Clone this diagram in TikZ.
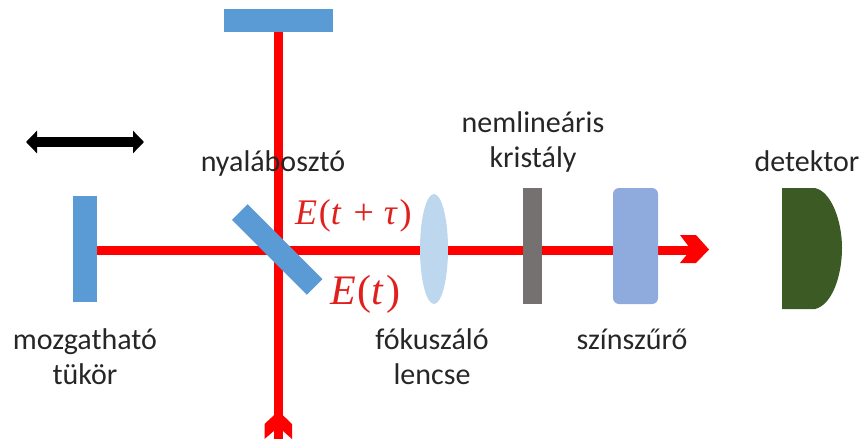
\documentclass[tikz,border=0pt]{standalone}
\usepackage{fontspec}
\setmainfont{Carlito}
\newfontfamily\mathserif[LetterSpace=5]{Liberation Serif}
\usetikzlibrary{arrows.meta,backgrounds,positioning,shapes.geometric}
\definecolor{mirrorblue}{HTML}{5B9BD5}
\definecolor{lensblue}{HTML}{BDD7EE}
\definecolor{filterblue}{HTML}{8FAADC}
\definecolor{crystalgray}{HTML}{767171}
\definecolor{detgreen}{HTML}{3B5A24}
\definecolor{eqred}{HTML}{E0201C}
\tikzset{
  optic/.style={draw=none,inner sep=0pt,outer sep=0pt,minimum width=#1},
  lbl/.style={font=\fontsize{30}{34}\selectfont,text=black!85,inner sep=0pt,anchor=base,align=center},
  beam/.style={draw=red,line width=8.5pt},
  eqa/.style={font=\mathserif\fontsize{36}{40}\selectfont,text=eqred,inner sep=0pt,anchor=base west},
  eqb/.style={font=\mathserif\fontsize{42}{46}\selectfont,text=eqred,inner sep=0pt,anchor=base west}
}
\begin{document}
\begin{tikzpicture}[x=1pt,y=-1pt]
\useasboundingbox (0,0) rectangle (861,439);
\node[optic=24pt,fill=mirrorblue,minimum height=106pt] (movmirror) at (85,249) {};
\node[optic=109pt,fill=mirrorblue,minimum height=23pt] (fixmirror) at (278.5,20.5) {};
\node[optic=106pt,fill=mirrorblue,minimum height=22pt,rotate=-45] (splitter) at (277.2,249.5) {};
\node[optic=28pt,fill=lensblue,ellipse,minimum height=110pt] (lens) at (434,249) {};
\node[optic=19pt,fill=crystalgray,minimum height=116pt] (crystal) at (532.5,246) {};
\node[optic=45pt,fill=filterblue,minimum height=116pt,rounded corners=6pt] (filter) at (635.5,246) {};
\coordinate (beamend) at (278.5,439);
\coordinate (beamtip) at (700,250.5);
\coordinate (shiftL) at (26,142);
\coordinate (shiftR) at (144,142);
\begin{scope}[on background layer]
  \draw[beam] (fixmirror.south) -- (beamend);
  \draw[beam] (movmirror.east |- beamtip) -- (beamtip);
\end{scope}
\fill[red] (680,235) -- (696,235) -- (709,249.5) -- (696,263) -- (680,263) -- (691,249.5) -- cycle;
\fill[red] (278.5,411) -- (292,424) -- (292,439) -- (278.5,427) -- (264.5,439) -- (264.5,424) -- cycle;
\draw[line width=10pt,{Triangle[length=11pt,width=22pt]}-{Triangle[length=11pt,width=22pt]}] (shiftL) -- (shiftR);
\fill[detgreen] (782,188) -- (815,188) .. controls (832,192) and (842,222) .. (842,248) .. controls (842,276) and (832,305) .. (815,309) -- (782,309) -- cycle;
\node[lbl] (l1) at (273,171) {nyalábosztó};
\node[lbl] (l2) at (533,132) {nemlineáris};
\node[lbl] (l3) at (533,167) {kristály};
\node[lbl] (l4) at (807,171) {detektor};
\node[lbl] (l5) at (85,349) {mozgatható};
\node[lbl] (l6) at (85,384) {tükör};
\node[lbl] (l7) at (432,349) {fókuszáló};
\node[lbl] (l8) at (432,384) {lencse};
\node[lbl] (l9) at (632,349) {színszűrő};
\node[eqa] (e1) at (295,224) {\textit{E}(\textit{t}\;+\;\textit{τ})};
\node[eqb] (e2) at (330,304) {\textit{E}(\textit{t})};
\end{tikzpicture}
\end{document}
